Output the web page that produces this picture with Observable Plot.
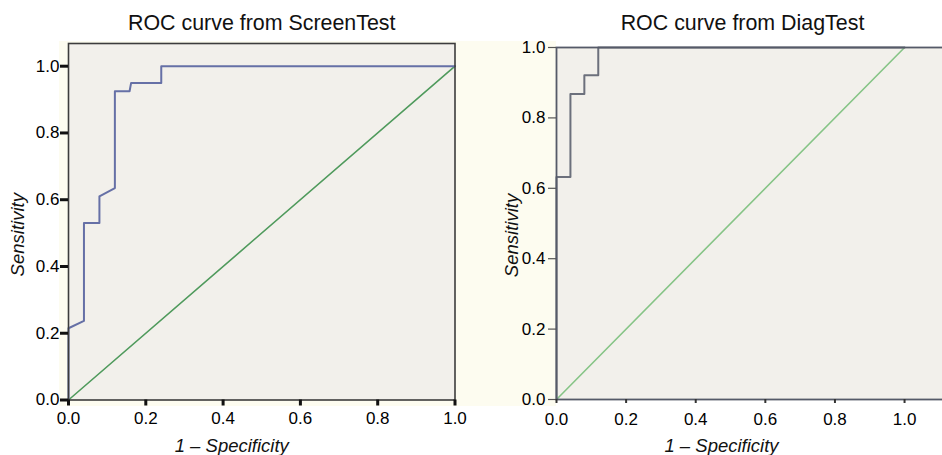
<!DOCTYPE html>
<html><head><meta charset="utf-8">
<script src="https://cdn.jsdelivr.net/npm/d3@7"></script>
<script src="https://cdn.jsdelivr.net/npm/@observablehq/plot@0.6"></script>
<style>
html,body{margin:0;padding:0;width:942px;height:455px;overflow:hidden;background:#fff;font-family:"Liberation Sans",Arial,sans-serif;}
#bg{position:absolute;left:59px;top:41px;width:497px;height:365px;background:#fdfcf0;}
.panel{position:absolute;top:0;}
</style></head><body>
<div id="bg"></div>
<div id="left" class="panel" style="left:0"></div>
<div id="right" class="panel" style="left:470px"></div>
<script>
const screenFPR = [0, 0, 0.04, 0.04, 0.08, 0.08, 0.12, 0.12, 0.158, 0.162, 0.24, 0.24, 1];
const screenTPR = [0, 0.215, 0.237, 0.53, 0.53, 0.61, 0.635, 0.925, 0.925, 0.95, 0.95, 1, 1];
const diagFPR = [0, 0, 0.04, 0.04, 0.08, 0.08, 0.12, 0.12, 1];
const diagTPR = [0, 0.632, 0.632, 0.868, 0.868, 0.921, 0.921, 1, 1];
const refLine = [0, 1];
const tickValues = [0, 0.2, 0.4, 0.6, 0.8, 1.0];
const titles = ["ROC curve from ScreenTest", "ROC curve from DiagTest"];
const xLabel = "1 – Specificity";
const yLabel = "Sensitivity";

const fmt = d3.format(".1f");
const font = {fontFamily: "'Liberation Sans', Arial, sans-serif", fontSize: "17px", background: "transparent", color: "#000", overflow: "visible", maxWidth: "none"};
const pts = (xs, ys) => xs.map((x, i) => ({x, y: ys[i]}));
const diag = refLine.map(v => ({x: v, y: v}));

const left = Plot.plot({
  width: 470, height: 455,
  marginLeft: 68, marginRight: 15.5, marginTop: 43, marginBottom: 55.5,
  style: font,
  x: {domain: [0, 1]},
  y: {domain: [0, 1.068]},
  marks: [
    Plot.frame({fill: "#f2f0eb", stroke: "none"}),
    Plot.line(diag, {x: "x", y: "y", stroke: "#4f9a5c", strokeWidth: 1.6}),
    Plot.line(pts(screenFPR, screenTPR), {x: "x", y: "y", stroke: "#6670a6", strokeWidth: 2}),
    Plot.frame({stroke: "#3c3c3c", strokeWidth: 1.6}),
    Plot.axisY({ticks: tickValues, tickFormat: fmt, tickSize: 8, tickPadding: 1, stroke: "#111", strokeWidth: 3, fontSize: 17, label: null}),
    Plot.axisX({ticks: tickValues, tickFormat: fmt, tickSize: 6, tickPadding: 6, stroke: "#111", strokeWidth: 3, fontSize: 17, label: null}),
    Plot.text([titles[0]], {frameAnchor: "top", lineAnchor: "middle", textAnchor: "middle", dy: -20.5, fontSize: 21.4, fill: "#111"}),
    Plot.text([xLabel], {frameAnchor: "bottom", lineAnchor: "middle", textAnchor: "middle", dx: -30, dy: 46, fontSize: 18.5, fontStyle: "italic", fill: "#111"}),
    Plot.text([yLabel], {frameAnchor: "left", lineAnchor: "middle", textAnchor: "middle", rotate: -90, dx: -50, dy: 13, fontSize: 18.5, fontStyle: "italic", fill: "#111"})
  ]
});
document.getElementById("left").append(left);

const right = Plot.plot({
  width: 480, height: 455,
  marginLeft: 86, marginRight: 0, marginTop: 47, marginBottom: 56,
  style: font,
  x: {domain: [0, 1.132]},
  y: {domain: [0, 1]},
  marks: [
    Plot.frame({fill: "#f2f0eb", stroke: "none"}),
    Plot.line(diag, {x: "x", y: "y", stroke: "#86c486", strokeWidth: 1.6}),
    Plot.line(pts(diagFPR, diagTPR), {x: "x", y: "y", stroke: "#6c707c", strokeWidth: 2}),
    Plot.frame({stroke: "#555a68", strokeWidth: 1.8}),
    Plot.axisY({ticks: tickValues, tickFormat: fmt, tickSize: 8, tickPadding: 3, stroke: "#555", strokeWidth: 1.2, fontSize: 17, label: null}),
    Plot.axisX({ticks: tickValues, tickFormat: fmt, tickSize: 4, tickPadding: 9, stroke: "#333", strokeWidth: 2, fontSize: 17, label: null}),
    Plot.text([titles[1]], {frameAnchor: "top", lineAnchor: "middle", textAnchor: "middle", dx: -11, dy: -24.5, fontSize: 21.4, fill: "#111"}),
    Plot.text([xLabel], {frameAnchor: "bottom", lineAnchor: "middle", textAnchor: "middle", dx: -32, dy: 46.5, fontSize: 18.5, fontStyle: "italic", fill: "#111"}),
    Plot.text([yLabel], {frameAnchor: "left", lineAnchor: "middle", textAnchor: "middle", rotate: -90, dx: -44, dy: 12, fontSize: 18.5, fontStyle: "italic", fill: "#111"})
  ]
});
document.getElementById("right").append(right);
</script>
</body></html>
